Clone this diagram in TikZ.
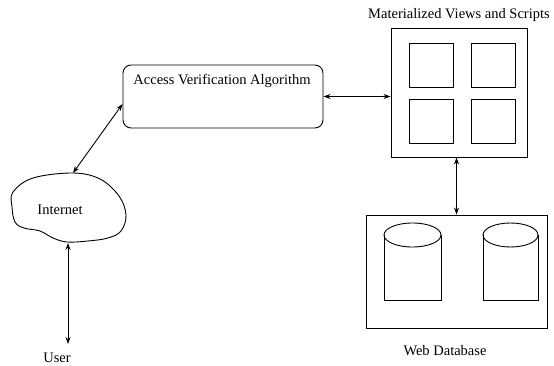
\documentclass[tikz,border=0pt]{standalone}
\usepackage{fontspec}
\setmainfont{Liberation Serif}
\usetikzlibrary{arrows.meta,calc}
\begin{document}
\begin{tikzpicture}[x=1pt,y=-1pt,
  line width=0.9pt,
  lbl/.style={font=\fontsize{14.5}{16}\selectfont, inner sep=0pt},
  dbl/.style={{Stealth[length=7pt,width=5pt]}-{Stealth[length=7pt,width=5pt]}},
  boxnode/.style={draw, inner sep=0pt},
  sq/.style={draw, inner sep=0pt, minimum width=44pt, minimum height=44pt}]
\useasboundingbox (0,0) rectangle (554,366);

% Access verification algorithm
\node[boxnode, rounded corners=8pt, minimum width=200pt, minimum height=63pt] (ava) at (223,96.5) {};
\node[lbl] (avalabel) at (222,81) {Access Verification Algorithm};

% Materialized views
\node[boxnode, minimum width=136pt, minimum height=129pt] (mv) at (459,92.5) {};
\node[lbl] (mvlabel) at (459,15) {Materialized Views and Scripts};
\node[sq] (s1) at (431,65) {};
\node[sq] (s2) at (493.5,65) {};
\node[sq] (s3) at (431,121.5) {};
\node[sq] (s4) at (493.5,121.5) {};

% Web database
\node[boxnode, minimum width=181pt, minimum height=113pt] (webdb) at (456.5,271.5) {};
\node[lbl] (webdblabel) at (445,351) {Web Database};
\foreach \l/\r in {384/441, 483/538}{
  \draw ({\l},235) -- ({\l},300) -- ({\r},300) -- ({\r},235);
  \draw ({(\l+\r)/2},235) ellipse ({(\r-\l)/2} and 12);
}

% Internet cloud
\draw plot[smooth cycle, tension=0.6] coordinates {
  (13,192) (33,178) (73,173) (100,179) (119,196) (126,215) (121,231)
  (108,238) (88,241) (67,242) (53,238) (40,231) (24,228) (15,222) (12,207)};
\node[lbl] (internet) at (60,210) {Internet};
\coordinate (cloudtop) at (73,173);
\coordinate (cloudbot) at (68,243);

% User
\node[lbl] (user) at (57,358) {User};
\coordinate (userend) at (68,344);

% connectors
\draw[dbl] (cloudtop) -- (ava.west |- 0,104);
\draw[dbl] (ava.east) -- (ava.east -| mv.west);
\draw[dbl] (mv.south -| webdb.north) -- (webdb.north);
\draw[dbl] (cloudbot) -- (userend);
\end{tikzpicture}
\end{document}
